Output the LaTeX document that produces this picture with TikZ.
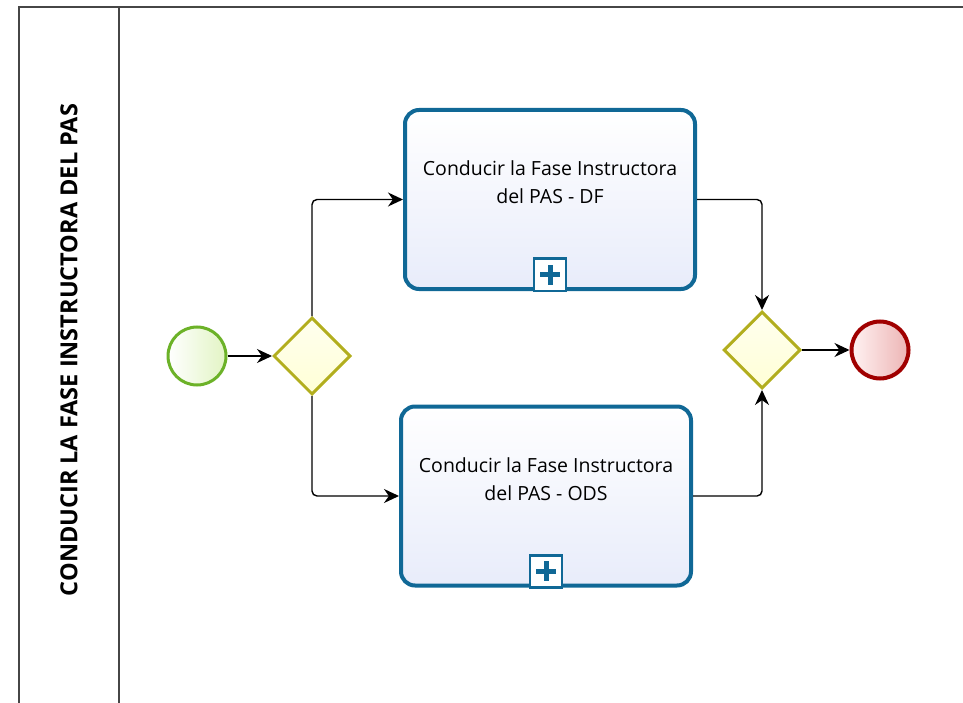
\documentclass[tikz,border=0pt]{standalone}
\usepackage{fontspec}
\setmainfont{Open Sans}
\usepackage{tikz}
\usetikzlibrary{shapes,arrows.meta,positioning}

\definecolor{taskblue}{RGB}{16,104,150}
\definecolor{taskfill}{RGB}{232,236,250}
\definecolor{startgreen}{RGB}{108,178,40}
\definecolor{startfill}{RGB}{226,244,196}
\definecolor{gateolive}{RGB}{178,174,30}
\definecolor{gatefill}{RGB}{255,255,214}
\definecolor{endred}{RGB}{160,0,0}
\definecolor{endfill}{RGB}{236,180,180}
\definecolor{poolgray}{RGB}{70,70,70}

\begin{document}
\begin{tikzpicture}[
    x=1pt, y=-1pt,
    task/.style={rectangle, rounded corners=14pt, draw=taskblue, line width=4pt,
        top color=white, bottom color=taskfill, minimum width=290pt, minimum height=179pt,
        align=center, font=\fontsize{19.5}{28}\selectfont, text=black,
        text height=14pt, text depth=6pt},
    startev/.style={circle, draw=startgreen, line width=3pt, minimum size=58pt,
        inner sep=0pt, shading angle=135, left color=white, right color=startfill},
    endev/.style={circle, draw=endred, line width=4pt, minimum size=57pt,
        inner sep=0pt, shading angle=135, left color=white!95!red, right color=endfill},
    gate/.style={diamond, draw=gateolive, line width=3pt, minimum size=77pt,
        inner sep=0pt, aspect=1, top color=white!60!gatefill, bottom color=gatefill},
    flow/.style={-{Stealth[length=15pt,width=14pt]}, line width=1.4pt, rounded corners=5pt},
    pool/.style={draw=poolgray, line width=2pt},
    subbox/.style={rectangle, draw=taskblue, line width=2.5pt, fill=white,
        minimum size=32pt, inner sep=0pt}
]

\useasboundingbox (0,0) rectangle (963,703);

% pool and lane
\draw[pool] (19,703) |- (963,7);
\draw[pool] (119,7) -- (119,703);
\node[rotate=90, font=\fontsize{23.5}{25}\selectfont\bfseries] (pooltitle) at (69,350)
    {CONDUCIR LA FASE INSTRUCTORA DEL PAS};

% events, gateways, tasks
\node[startev] (start) at (197,356) {};
\node[gate] (split) at (312,356) {};
\node[task] (taskdf) at (550,199.5) {Conducir la Fase Instructora\\del PAS - DF};
\node[task] (taskods) at (546,496) {Conducir la Fase Instructora\\del PAS - ODS};
\node[gate] (join) at (762,350) {};
\node[endev] (finish) at (880,350) {};

% sub-process markers
\foreach \t in {taskdf, taskods} {
    \node[subbox, above=-1pt of \t.south] (\t-mark) {};
    \fill[taskblue] ([xshift=-2.5pt,yshift=-10pt]\t-mark.center) rectangle ([xshift=2.5pt,yshift=10pt]\t-mark.center);
    \fill[taskblue] ([xshift=-10pt,yshift=-2.5pt]\t-mark.center) rectangle ([xshift=10pt,yshift=2.5pt]\t-mark.center);
}

% sequence flows
\draw[flow] (start) -- (split);
\draw[flow] (split.north) |- (taskdf.west);
\draw[flow] (split.south) |- (taskods.west);
\draw[flow] (taskdf.east) -| (join.north);
\draw[flow] (taskods.east) -| (join.south);
\draw[flow] (join) -- (finish);

\end{tikzpicture}
\end{document}
